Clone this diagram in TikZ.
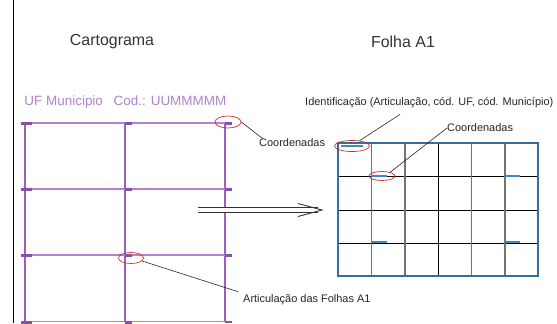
\documentclass[tikz,border=0pt]{standalone}
\usepackage{fontspec}
\setmainfont{Liberation Sans}
\usepackage{tikz}
\usetikzlibrary{positioning}
\usetikzlibrary{shapes}
\definecolor{lilas}{RGB}{178,130,205}
\definecolor{lilasmedio}{RGB}{155,95,190}
\definecolor{lilasescuro}{RGB}{135,80,170}
\definecolor{azul}{RGB}{50,110,160}
\definecolor{azulmarca}{RGB}{65,135,200}
\definecolor{vermelho}{RGB}{215,45,45}
\tikzset{circulo/.style={ellipse,draw=vermelho,line width=0.7bp,inner sep=0pt}}
\tikzset{rotulo/.style={font=\fontsize{11}{13}\selectfont,text=black!85,inner sep=0pt}}
\tikzset{titulo/.style={font=\fontsize{16}{18}\selectfont,text=black!80,inner sep=0pt}}
\tikzset{ligacao/.style={line width=0.6bp,black!85}}

\begin{document}
\begin{tikzpicture}[x=1bp,y=-1bp]
\useasboundingbox (0,0) rectangle (557,323);
\draw[line width=1bp] (13,0) -- (13,323);
\node[titulo] (cartograma) at (112,42) {Cartograma};
\node[titulo] (folha) at (403,42) {Folha A1};
\node[anchor=west,inner sep=0pt,text=lilas,font=\fontsize{13.5}{15}\selectfont] (cabecalho) at (24.3,102) {UF Municipio\hspace{7bp} Cod.: UUMMMMM};
% cartograma
\foreach \x in {25,125,225} {
\draw[lilasmedio,line width=1.1bp] (\x,123) -- (\x,321.7);
}
\foreach \y in {123,189,255,321.7} {
\draw[lilas,line width=1.3bp] (25,\y) -- (225,\y);
\fill[lilasescuro] (21,\y-1) rectangle (32,\y+2);
\fill[lilasescuro] (125,\y-1) rectangle (132,\y+2);
\fill[lilasescuro] (225,\y-1) rectangle (232,\y+1.5);
}
% folha A1
\foreach \y in {176.5,210,243.5} {
\draw[black,line width=0.9bp] (338,\y) -- (538,\y);
}
\foreach \x in {371.5,405,471.5,505} {
\draw[black!55,line width=1.1bp] (\x,143) -- (\x,276);
}
\draw[black,line width=0.9bp] (438,143) -- (438,276);
\draw[azul,line width=1.1bp] (338,143) rectangle (538,276);
\fill[azulmarca] (341,144.7) rectangle (363,146.7);
\foreach \x/\y in {372/176,505/176,372/242,505/242} {
\fill[azulmarca] (\x,\y-1) rectangle (\x+15,\y+1);
}
% seta
\coordinate (inicio) at (198,210);
\coordinate (fim) at (322,210);
\draw[black!80,line width=0.9bp,double,double distance=4bp,shorten >=4bp] (inicio) -- (fim);
\draw[black!80,line width=0.9bp] ([xshift=-24bp,yshift=6.5bp]fim) -- (fim) -- ([xshift=-24bp,yshift=-6.5bp]fim);
% chamadas
\node[circulo,minimum width=26bp,minimum height=12bp] (coordA) at (228,122) {};
\node[rotulo,anchor=west] (txtcoordA) at (259,143) {Coordenadas};
\draw[ligacao] (coordA.east) -- ([xshift=4bp]txtcoordA.north west);
\node[circulo,minimum width=25bp,minimum height=11bp] (artic) at (131,258) {};
\node[rotulo,anchor=west] (txtartic) at (243,300) {Articulação das Folhas A1};
\draw[ligacao] (artic.-15) -- ([xshift=-5bp,yshift=3bp]txtartic.north west);
\node[circulo,minimum width=35bp,minimum height=11bp] (ident) at (352,146) {};
\node[rotulo,anchor=west] (txtident) at (305,103) {Identificação (Articulação, cód. UF, cód. Município)};
\draw[ligacao] (ident.35) -- ([xshift=95bp,yshift=-6bp]txtident.south west);
\node[circulo,minimum width=26bp,minimum height=9bp] (coordB) at (382,176) {};
\node[rotulo,anchor=west] (txtcoordB) at (447,128) {Coordenadas};
\draw[ligacao] (coordB.25) -- (txtcoordB.west);
\end{tikzpicture}
\end{document}
